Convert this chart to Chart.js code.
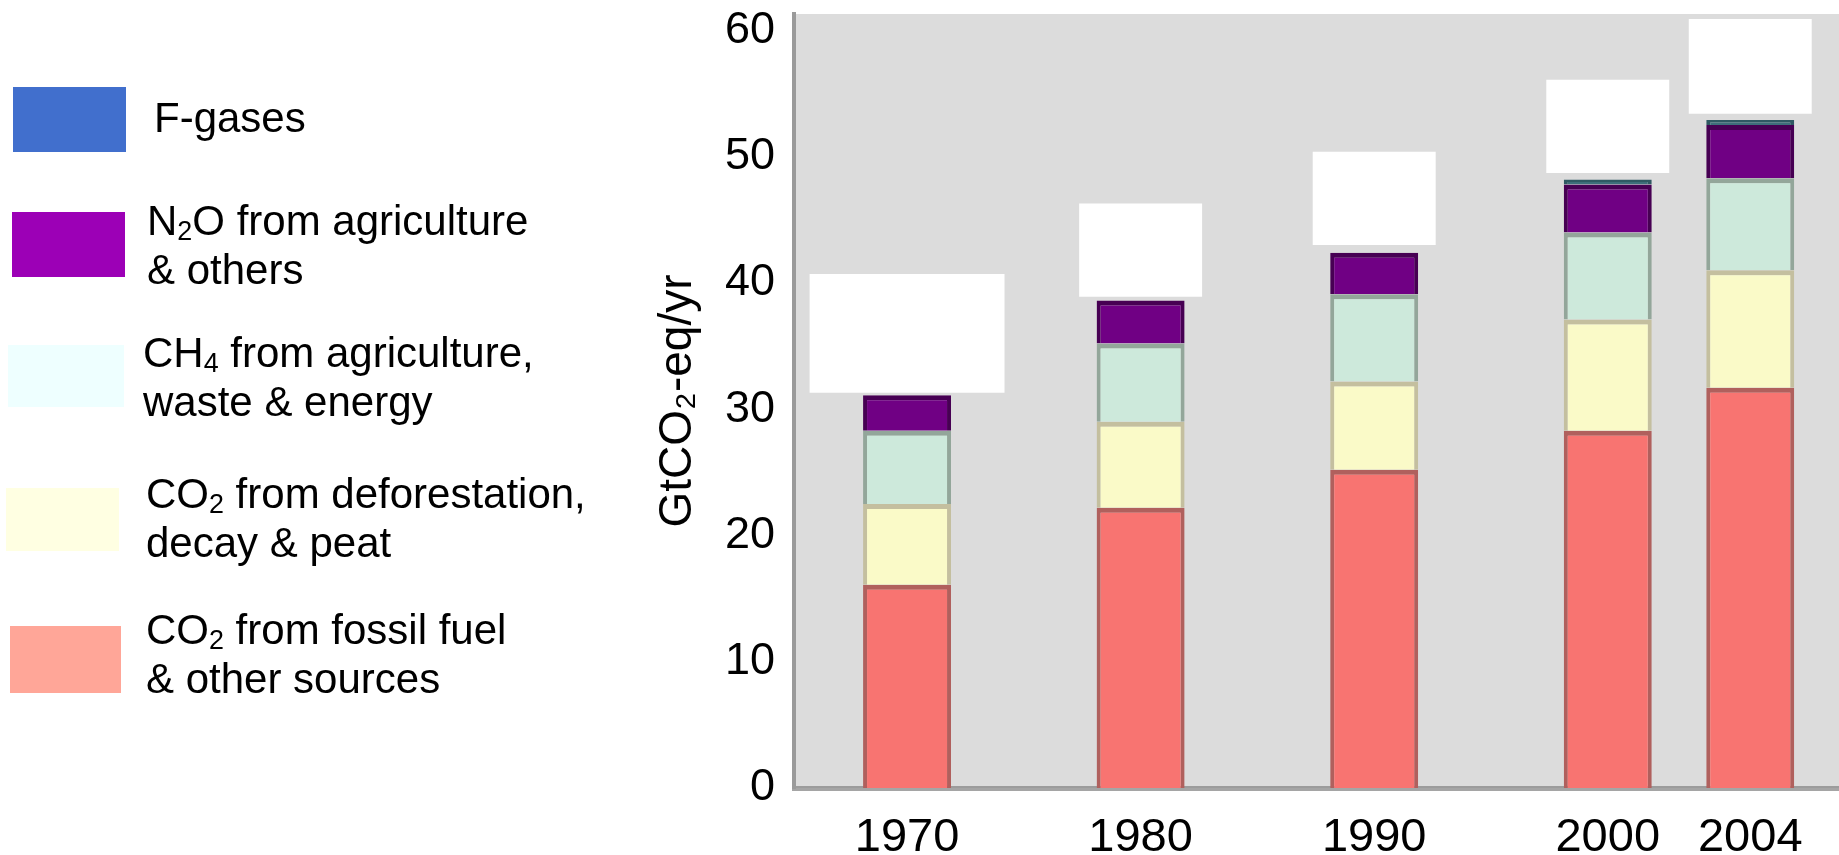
<!DOCTYPE html>
<html>
<head>
<meta charset="utf-8">
<script src="https://cdn.jsdelivr.net/npm/chart.js@4/dist/chart.umd.min.js"></script>
<style>
  html, body { margin: 0; padding: 0; background: #fff; }
  #wrap { position: relative; width: 1839px; height: 855px; overflow: hidden; font-family: "Liberation Sans", Arial, sans-serif; }
  #chart { position: absolute; left: 0; top: 0; }
  .sw { position: absolute; }
  .lt { position: absolute; font-size: 42px; line-height: 49px; color: #000; white-space: nowrap; }
  .lt sub { font-size: 0.64em; line-height: 0; vertical-align: -0.2em; }
</style>
</head>
<body>
<div id="wrap">
  <canvas id="chart" width="1839" height="855"></canvas>
  <div id="legend"></div>
</div>
<script>
// bar slots: 2004 sits closer to 2000 than the decades do
const years = ['1970', '1980', '1990', '2000', '2004'];
const slots = [0, 1, 2, 3, 3.61];

// GtCO2-eq/yr, bottom to top of each stack
const fossilCO2    = [16.1, 22.2, 25.2, 28.3, 31.7];
const deforestCO2  = [6.4, 6.8, 7.0, 8.8, 9.3];
const methane      = [5.8, 6.2, 6.9, 6.9, 7.3];
const nitrousOxide = [2.8, 3.4, 3.3, 3.8, 4.2];
const fGases       = [0, 0, 0, 0.4, 0.4];

// blank white label boxes above each bar
const boxLow  = [31.3, 38.9, 43.0, 48.7, 53.4];
const boxHigh = [40.7, 46.3, 50.4, 56.1, 60.9];

const seriesNames = [
  'CO<sub>2</sub> from fossil fuel<br>&amp; other sources',
  'CO<sub>2</sub> from deforestation,<br>decay &amp; peat',
  'CH<sub>4</sub> from agriculture,<br>waste &amp; energy',
  'N<sub>2</sub>O from agriculture<br>&amp; others',
  'F-gases'
];
const barFill    = ['#f87471', '#fafac8', '#cde9db', '#700084', '#3d6f7a'];
const barEdge    = ['#b0605d', '#c4bf9f', '#93a69a', '#470053', '#2f5a63'];
const legendFill = ['#ffa698', '#ffffe2', '#eeffff', '#9c00b6', '#416fcd'];

// legend placement (swatch x, y, w, h and text x, y), listed in series order
const legendLayout = [
  [10, 626, 111, 67, 146, 605],
  [6, 488, 113, 63, 146, 469],
  [8, 345, 116, 62, 143, 328],
  [12, 212, 113, 65, 147, 196],
  [13, 87, 113, 65, 154, 93]
];

const seriesValues = [fossilCO2, deforestCO2, methane, nitrousOxide, fGases];

const legendEl = document.getElementById('legend');
seriesNames.forEach((name, i) => {
  const [sx, sy, sw, sh, tx, ty] = legendLayout[i];
  const box = document.createElement('div');
  box.className = 'sw';
  box.style.cssText = `left:${sx}px;top:${sy}px;width:${sw}px;height:${sh}px;background:${legendFill[i]};`;
  const txt = document.createElement('div');
  txt.className = 'lt';
  txt.style.cssText = `left:${tx}px;top:${ty}px;`;
  txt.innerHTML = name;
  legendEl.appendChild(box);
  legendEl.appendChild(txt);
});

const plotBg = {
  id: 'plotBg',
  beforeDraw(chart) {
    const { ctx, chartArea: a } = chart;
    ctx.save();
    ctx.fillStyle = '#dcdcdc';
    ctx.fillRect(a.left, a.top, a.right - a.left, a.bottom - a.top);
    ctx.restore();
  }
};

const datasets = seriesValues.map((vals, i) => ({
  label: seriesNames[i],
  data: vals.map((v, j) => ({ x: slots[j], y: v })),
  backgroundColor: barFill[i],
  borderColor: barEdge[i],
  borderWidth: { top: 5, left: 4, right: 4, bottom: 0 },
  barPercentage: 0.6175,
  stack: 'gas'
}));

datasets.push({
  label: 'box1970',
  data: [{ x: slots[0], y: [boxLow[0], boxHigh[0]] }],
  backgroundColor: '#ffffff',
  borderWidth: 0,
  barPercentage: 1.368,
  stack: 'boxA'
});
datasets.push({
  label: 'boxes',
  data: slots.slice(1).map((s, j) => ({ x: s, y: [boxLow[j + 1], boxHigh[j + 1]] })),
  backgroundColor: '#ffffff',
  borderWidth: 0,
  barPercentage: 0.863,
  stack: 'boxB'
});

new Chart(document.getElementById('chart'), {
  type: 'bar',
  data: { datasets },
  options: {
    responsive: false,
    maintainAspectRatio: false,
    animation: false,
    devicePixelRatio: 1,
    layout: { padding: { left: 651, top: 14, right: 0, bottom: 0 } },
    datasets: { bar: { grouped: false, categoryPercentage: 1 } },
    plugins: { legend: { display: false }, tooltip: { enabled: false } },
    scales: {
      x: {
        type: 'linear',
        min: -0.484,
        max: 3.99,
        offset: false,
        z: 1,
        grid: { display: false, drawTicks: false },
        border: { display: true, color: 'rgba(135,135,135,0.75)', width: 5 },
        afterBuildTicks: s => { s.ticks = slots.map(v => ({ value: v })); },
        afterFit: s => { s.height = 67; s.paddingLeft = 0; s.paddingRight = 0; },
        ticks: {
          autoSkip: false,
          maxRotation: 0,
          padding: 22,
          color: '#000',
          font: { family: 'Liberation Sans', size: 47 },
          callback: (v, i) => years[i]
        }
      },
      y: {
        stacked: true,
        min: 0,
        max: 61.3,
        grid: { display: false, drawTicks: false },
        border: { display: true, color: '#9a9a9a', width: 4 },
        afterFit: s => { s.width = 143; s.paddingTop = 0; s.paddingBottom = 0; },
        ticks: {
          stepSize: 10,
          includeBounds: false,
          padding: 19,
          color: '#000',
          font: { family: 'Liberation Sans', size: 45 }
        },
        title: {
          display: true,
          text: 'GtCO₂-eq/yr',
          color: '#000',
          padding: 0,
          font: { family: 'Liberation Sans', size: 46 }
        }
      }
    }
  },
  plugins: [plotBg]
});
</script>
</body>
</html>
